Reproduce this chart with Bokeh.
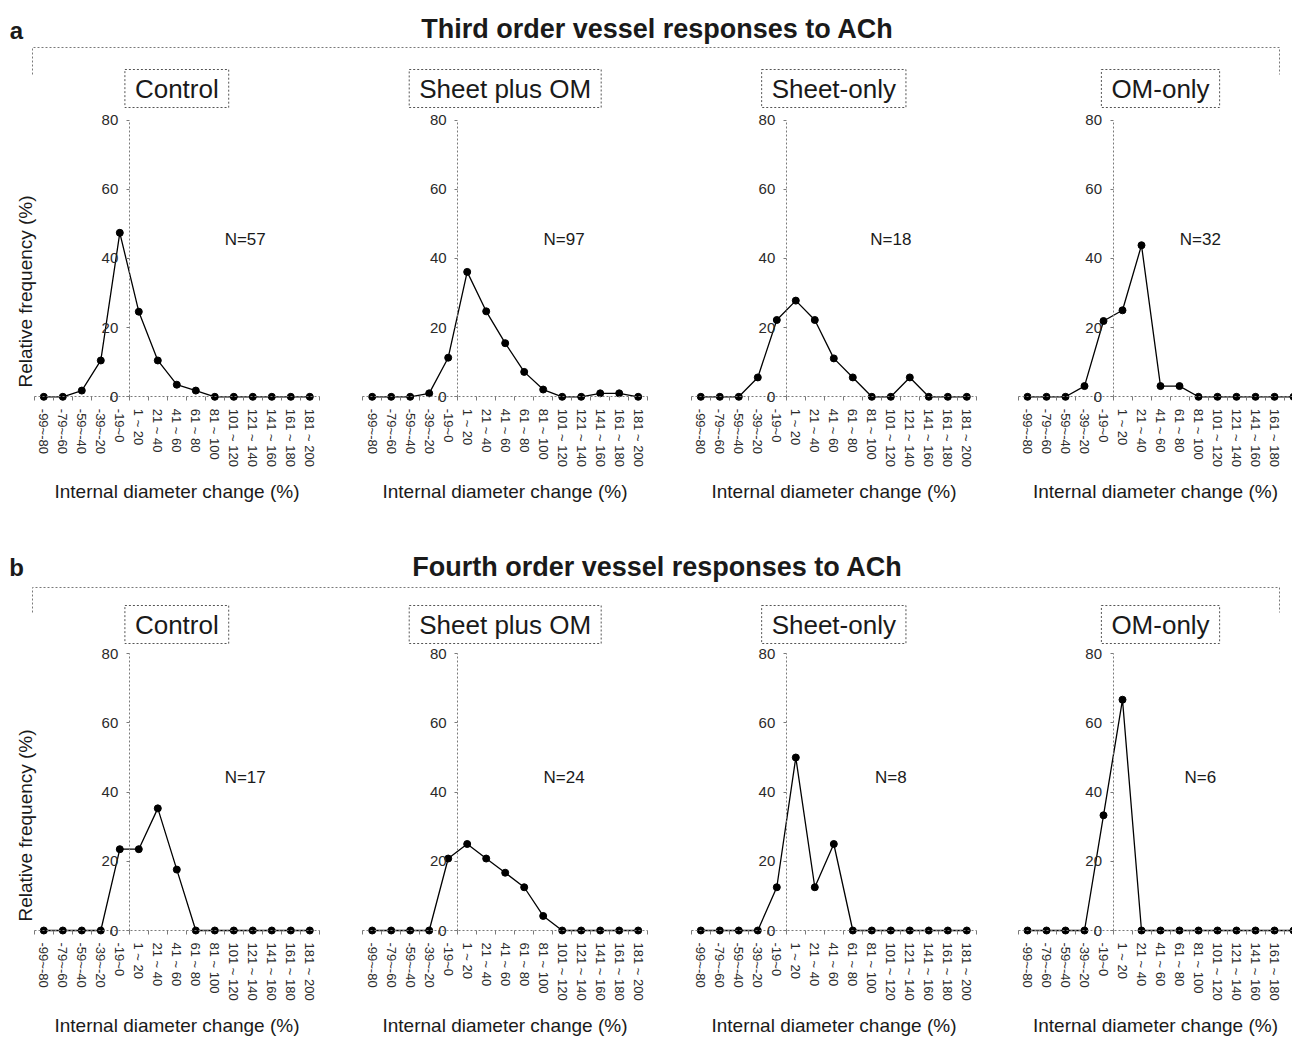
import math
from bokeh.plotting import figure
from bokeh.models import Range1d, LinearAxis, FixedTicker, Label, ColumnDataSource
from bokeh.embed import file_html
from bokeh.resources import INLINE

# ---------------- data ----------------
categories = ["-99~-80", "-79~-60", "-59~-40", "-39~-20", "-19~0",
              "1 ~ 20", "21 ~ 40", "41 ~ 60", "61 ~ 80", "81 ~ 100",
              "101 ~ 120", "121 ~ 140", "141 ~ 160", "161 ~ 180", "181 ~ 200"]
groups = ["Control", "Sheet plus OM", "Sheet-only", "OM-only"]
row_titles = ["Third order vessel responses to ACh", "Fourth order vessel responses to ACh"]
row_letters = ["a", "b"]
y_ticks = [0, 20, 40, 60, 80]

third_n = [57, 97, 18, 32]
fourth_n = [17, 24, 8, 6]

third_control = [0, 0, 1.8, 10.5, 47.4, 24.6, 10.5, 3.5, 1.8, 0, 0, 0, 0, 0, 0]
third_sheet_om = [0, 0, 0, 1.0, 11.3, 36.1, 24.7, 15.5, 7.2, 2.1, 0, 0, 1.0, 1.0, 0]
third_sheet_only = [0, 0, 0, 5.6, 22.2, 27.8, 22.2, 11.1, 5.6, 0, 0, 5.6, 0, 0, 0]
third_om_only = [0, 0, 0, 3.1, 21.9, 25.0, 43.8, 3.1, 3.1, 0, 0, 0, 0, 0, 0]

fourth_control = [0, 0, 0, 0, 23.5, 23.5, 35.3, 17.6, 0, 0, 0, 0, 0, 0, 0]
fourth_sheet_om = [0, 0, 0, 0, 20.8, 25.0, 20.8, 16.7, 12.5, 4.2, 0, 0, 0, 0, 0]
fourth_sheet_only = [0, 0, 0, 0, 12.5, 50.0, 12.5, 25.0, 0, 0, 0, 0, 0, 0, 0]
fourth_om_only = [0, 0, 0, 0, 33.3, 66.7, 0, 0, 0, 0, 0, 0, 0, 0, 0]

rows = [
    [third_control, third_sheet_om, third_sheet_only, third_om_only],
    [fourth_control, fourth_sheet_om, fourth_sheet_only, fourth_om_only],
]
row_n = [third_n, fourth_n]

# ---------------- layout (window pixels) ----------------
W, H = 1292, 1036
O = 0
panel_x0 = [43.3, 371.7, 700.3, 1027.0]   # window x of first category
cat_px = 19.0
row_y0 = [396.3, 930.0]                    # window y of value 0
val_px = 3.46
n_pos_x = [10.6, 10.1, 10.0, 9.1]
n_pos_y = [45.5, 44.2]
box_y = [88, 624]
bracket_y = [(47, 74), (587, 612)]
title_mid = [28, 566]
letter_mid = [30, 567]
ylabel_y = [291, 825]

FONT = "Liberation Sans"
AX = "#7a7a7a"
TXT = "#1a1a1a"

extra_x = {}
extra_y = {}
for r in range(2):
    extra_y[f"y{r}"] = Range1d((row_y0[r] - (O + H)) / val_px, (row_y0[r] - O) / val_px)
    for j in range(4):
        extra_x[f"x{r}{j}"] = Range1d((O - panel_x0[j]) / cat_px, (O + W - panel_x0[j]) / cat_px)

p = figure(width=W, height=H, x_range=Range1d(O, O + W), y_range=Range1d(O + H, O),
           x_axis_type=None, y_axis_type=None, toolbar_location=None,
           output_backend="svg", min_border=0, outline_line_color=None,
           extra_x_ranges=extra_x, extra_y_ranges=extra_y)
p.background_fill_color = "white"
p.border_fill_color = "white"

for r in range(2):
    # header
    p.add_layout(Label(x=16, y=letter_mid[r], text=row_letters[r], text_align="center",
                       text_baseline="middle", text_font=FONT, text_font_style="bold",
                       text_font_size="24px", text_color=TXT))
    p.add_layout(Label(x=657, y=title_mid[r], text=row_titles[r], text_align="center",
                       text_baseline="middle", text_font=FONT, text_font_style="bold",
                       text_font_size="27px", text_color=TXT))
    b0, b1 = bracket_y[r]
    p.multi_line(xs=[[32, 32, 1279, 1279]], ys=[[b1, b0, b0, b1]],
                 line_color=AX, line_dash="2 2", line_width=1)
    p.add_layout(Label(x=25, y=ylabel_y[r], text="Relative frequency (%)", angle=math.pi / 2,
                       text_align="center", text_baseline="middle", text_font=FONT,
                       text_font_size="19px", text_color=TXT))

    yr = f"y{r}"
    for j in range(4):
        xr = f"x{r}{j}"
        vals = rows[r][j]
        src = ColumnDataSource(dict(x=list(range(len(categories))), y=vals))

        xa = LinearAxis(x_range_name=xr, y_range_name=yr, fixed_location=0,
                        bounds=(-0.5, len(categories) - 0.5),
                        ticker=FixedTicker(ticks=list(range(len(categories))),
                                           minor_ticks=[i - 0.5 for i in range(len(categories) + 1)]),
                        major_label_overrides={i: c for i, c in enumerate(categories)},
                        major_label_orientation="vertical",
                        axis_label="Internal diameter change (%)")
        xa.axis_line_color = AX
        xa.axis_line_dash = "2 2"
        xa.major_tick_line_color = None
        xa.major_tick_out = 0
        xa.major_tick_in = 0
        xa.minor_tick_line_color = AX
        xa.minor_tick_out = 4
        xa.minor_tick_in = 0
        xa.major_label_standoff = 8
        xa.major_label_text_font = FONT
        xa.major_label_text_font_size = "13px"
        xa.major_label_text_color = "#2a2a2a"
        xa.axis_label_standoff = 11
        xa.axis_label_text_font = FONT
        xa.axis_label_text_font_size = "19px"
        xa.axis_label_text_font_style = "normal"
        xa.axis_label_text_color = TXT
        p.add_layout(xa, "below")

        ya = LinearAxis(x_range_name=xr, y_range_name=yr, fixed_location=4.5,
                        bounds=(0, 80), ticker=FixedTicker(ticks=y_ticks))
        ya.axis_line_color = AX
        ya.axis_line_dash = "2 2"
        ya.major_tick_line_color = AX
        ya.major_tick_out = 3
        ya.major_tick_in = 0
        ya.minor_tick_line_color = None
        ya.major_label_standoff = 8
        ya.major_label_text_font = FONT
        ya.major_label_text_font_size = "15px"
        ya.major_label_text_color = "#2a2a2a"
        p.add_layout(ya, "left")

        p.line("x", "y", source=src, x_range_name=xr, y_range_name=yr,
               line_color="black", line_width=1.3)
        p.scatter("x", "y", source=src, x_range_name=xr, y_range_name=yr,
                  marker="circle", size=7, fill_color="black", line_color="black")

        p.add_layout(Label(x=7, y=box_y[r], x_range_name=xr, text=groups[j],
                           text_align="center", text_baseline="middle", text_font=FONT,
                           text_font_size="26px", text_color=TXT,
                           background_fill_color="white", border_line_color="#555555",
                           border_line_dash="2 2", border_line_width=1,
                           padding=dict(left=10, right=10, top=4, bottom=4)))
        p.add_layout(Label(x=n_pos_x[j], y=n_pos_y[r], x_range_name=xr, y_range_name=yr,
                           text=f"N={row_n[r][j]}", text_align="center", text_baseline="middle",
                           text_font=FONT, text_font_size="17px", text_color=TXT))

open("out.html", "w").write(file_html(p, INLINE))
